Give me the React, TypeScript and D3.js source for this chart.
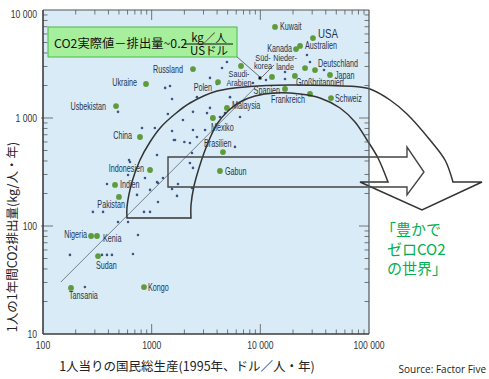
import React from 'react';
import * as d3 from 'd3';

const W = 489;
const H = 379;

// Axis ticks
const xTickValues = [100, 1000, 10000, 100000];
const xTickLabels = ['100', '1000', '10 000', '100 000'];
const yTickValues = [10, 100, 1000, 10000];
const yTickLabels = ['10', '100', '1 000', '10 000'];

// Named countries (GDP per capita $, CO2 kg per capita)
const countryNames = [
  'Kuwait', 'USA', 'Kanada', 'Australien', 'Süd-korea', 'Niederlande', 'Deutschland', 'Japan',
  'Großbritannien', 'Spanien', 'Frankreich', 'Schweiz', 'Saudi-Arabien', 'Russland', 'Polen',
  'Malaysia', 'Mexiko', 'Brasilien', 'Gabun', 'Ukraine', 'Usbekistan', 'China', 'Indonesien',
  'Indien', 'Pakistan', 'Nigeria', 'Kenia', 'Sudan', 'Tansania', 'Kongo',
];
const countryGdp = [
  13650, 30500, 21300, 23200, 12800, 25800, 31850, 43750,
  20800, 16870, 28640, 44700, 6640, 2400, 4080,
  4930, 3660, 4530, 4250, 887, 470, 781, 966,
  460, 500, 277, 314, 321, 181, 850,
];
const countryCo2 = [
  6970, 5500, 4350, 4650, 2400, 2900, 2780, 2500,
  2450, 1860, 1670, 1530, 3030, 2840, 2150,
  1240, 1000, 484, 323, 2065, 1290, 667, 330,
  240, 186, 80.8, 80.8, 52.7, 26.7, 27.2,
];

// Other (unlabelled) countries
const otherGdp = [
  1330, 1475, 1540, 1410, 490, 815, 1540, 1600, 619, 1120,
  4440, 4930, 3440, 3990, 2610, 5260, 1940, 2400, 3230, 3440,
  4250, 4730, 6500, 1070, 2400, 3100, 2610, 1640, 2250, 2000,
  5840, 2350, 2250, 2400, 8550, 11270, 16870, 16870, 26870, 28640,
  38550, 288, 357, 388, 606, 733, 490, 606, 850, 966,
  868, 966, 748, 177, 349, 388, 431, 673, 243, 632,
  1143, 1143, 1540, 1746, 1710, 1120, 1270, 2350,
];
const otherCo2 = [
  1900, 1980, 1500, 1090, 1140, 807, 758, 625, 409, 454,
  2900, 3300, 2350, 2065, 1560, 1560, 958, 1140, 1110, 1240,
  1020, 1110, 1020, 807, 774, 774, 667, 625, 587, 600,
  540, 474, 383, 345, 2110, 2250, 2670, 2300, 3830, 3300,
  2780, 135, 135, 245, 297, 194, 109, 109, 135, 135,
  278, 216, 82.6, 54, 54, 54, 54, 55, 27.2, 392,
  167, 250, 220, 245, 190, 255, 278, 225,
];

// Trend line endpoints
const trendGdp = [146, 8900];
const trendCo2 = [30.3, 1900];

// Label placement (pixel offsets from the point)
type LabelLayout = { dx: number; dy: number[]; anchor: 'start' | 'end' | 'middle'; lines?: string[]; big?: boolean };
const labelLayout: Record<string, LabelLayout> = {
  Kuwait: { dx: 5, dy: [0], anchor: 'start' },
  USA: { dx: 5, dy: [-5], anchor: 'start', big: true },
  Kanada: { dx: -4, dy: [-1], anchor: 'end' },
  Australien: { dx: 5, dy: [0], anchor: 'start' },
  'Süd-korea': { dx: -9, dy: [-19, -11], anchor: 'middle', lines: ['Süd-', 'korea'] },
  Niederlande: { dx: -20, dy: [-11, -2], anchor: 'middle', lines: ['Nieder-', 'lande'] },
  Deutschland: { dx: 3, dy: [-7], anchor: 'start' },
  Japan: { dx: 5, dy: [0], anchor: 'start' },
  'Großbritannien': { dx: 1, dy: [7], anchor: 'start' },
  Spanien: { dx: -5, dy: [2], anchor: 'end' },
  Frankreich: { dx: -39, dy: [6], anchor: 'start' },
  Schweiz: { dx: 4, dy: [0], anchor: 'start' },
  'Saudi-Arabien': { dx: -2, dy: [7, 16], anchor: 'middle', lines: ['Saudi-', 'Arabien'] },
  Russland: { dx: -10, dy: [0], anchor: 'end' },
  Polen: { dx: -6, dy: [5], anchor: 'end' },
  Malaysia: { dx: 5, dy: [-2], anchor: 'start' },
  Mexiko: { dx: -2, dy: [9], anchor: 'start' },
  Brasilien: { dx: -19, dy: [-9], anchor: 'start' },
  Gabun: { dx: 5, dy: [0], anchor: 'start' },
  Ukraine: { dx: -9, dy: [-1], anchor: 'end' },
  Usbekistan: { dx: -10, dy: [0], anchor: 'end' },
  China: { dx: -8, dy: [-1], anchor: 'end' },
  Indonesien: { dx: -6, dy: [-2], anchor: 'end' },
  Indien: { dx: 5, dy: [0], anchor: 'start' },
  Pakistan: { dx: 6, dy: [8], anchor: 'end' },
  Nigeria: { dx: -4, dy: [-1], anchor: 'end' },
  Kenia: { dx: 6, dy: [3], anchor: 'start' },
  Sudan: { dx: -2, dy: [9], anchor: 'start' },
  Tansania: { dx: -2, dy: [8], anchor: 'start' },
  Kongo: { dx: 4, dy: [0], anchor: 'start' },
};

const PL = 43, PR = 369, PT = 10, PB = 334;

export default function App() {
  React.useEffect(() => {
    document.body.style.margin = '0';
  }, []);

  const x = d3.scaleLog().domain([100, 100000]).range([PL, PR]);
  const y = d3.scaleLog().domain([10, 10000]).range([PB, PT]);

  const xMinor: number[] = [];
  [100, 1000, 10000].forEach((d) => { for (let k = 2; k <= 9; k++) xMinor.push(k * d); });
  const yMinor: number[] = [];
  [10, 100, 1000].forEach((d) => { for (let k = 2; k <= 9; k++) yMinor.push(k * d); });

  const lineGen = d3.line<[number, number]>().curve(d3.curveCatmullRom.alpha(0.5));

  // Curved block arrow (annotation, pixel space)
  const outerPts: [number, number][] = [
    [127, 218], [127, 207], [132, 182], [140, 160], [150, 142], [161, 127], [175, 114], [190, 103],
    [217, 91], [250, 86.5], [290, 85], [330, 85.5], [355, 86.5], [370, 89], [390, 100], [407, 114],
    [430, 140], [445, 160], [453, 182],
  ];
  const innerPts: [number, number][] = [
    [388, 182], [378, 158], [367, 140], [355, 122], [340, 108], [320, 98], [300, 94], [275, 93],
    [255, 96], [240, 102], [228, 111], [217, 124], [210, 138], [204, 153], [199, 168], [194, 186],
    [191, 205], [191, 218],
  ];
  const outerD = lineGen(outerPts) as string;
  const innerD = (lineGen(innerPts) as string).replace(/^M/, 'L');
  const curvedArrow = `${outerD}L482,182L422,210L360,182${innerD}Z`;

  const straightArrow = 'M168,157L407,157L407,147L424,172L407,195L407,187L168,187Z';

  const labelFont = 'Liberation Sans, Arial, sans-serif';
  const jpFont = "'Noto Sans CJK JP', 'Noto Sans', sans-serif";

  return (
    <svg width={W} height={H} style={{ position: 'absolute', left: 0, top: 0, background: '#fff' }}>
      <rect x={PL} y={PT} width={PR - PL} height={PB - PT} fill="#d8ebf7" />

      {/* other countries */}
      {otherGdp.map((g, i) => (
        <circle key={'o' + i} cx={x(g)} cy={y(otherCo2[i])} r={1.3} fill="#3d5585" />
      ))}

      {/* trend line */}
      <line x1={x(trendGdp[0])} y1={y(trendCo2[0])} x2={x(trendGdp[1])} y2={y(trendCo2[1])} stroke="#5a6470" strokeWidth={0.8} />

      {/* named countries */}
      {countryNames.map((n, i) => (
        <circle key={'c' + i} cx={x(countryGdp[i])} cy={y(countryCo2[i])} r={2.9} fill="#5f9b3b" />
      ))}

      {countryNames.map((n, i) => {
        const lay = labelLayout[n];
        const px = x(countryGdp[i]) + lay.dx;
        const py = y(countryCo2[i]);
        const lines = lay.lines || [n];
        const two = lines.length > 1;
        return lines.map((t, j) => (
          <text
            key={'l' + i + '-' + j}
            transform={`translate(${px},${py + lay.dy[j] + (lay.big ? 4.5 : 3.5)}) scale(${two ? 0.78 : 0.72},1)`}
            textAnchor={lay.anchor}
            fontFamily={labelFont}
            fontSize={lay.big ? 13.5 : two ? 9.3 : 10}
            fill="#26344c"
          >
            {t}
          </text>
        ));
      })}

      {/* Süd-korea pointer */}
      <rect x={258.5} y={76.5} width={3} height={3} fill="#111" />
      <line x1={274} y1={65} x2={262} y2={77} stroke="#333" strokeWidth={0.7} />
      <line x1={236} y1={56} x2={260} y2={77} stroke="#333" strokeWidth={0.7} />

      {/* arrows */}
      <path d={curvedArrow} fill="none" stroke="#333" strokeWidth={1.5} />
      <path d={straightArrow} fill="none" stroke="#444" strokeWidth={1.4} />

      {/* frame ticks */}
      {xMinor.map((v) => (
        <g key={'xm' + v}>
          <line x1={x(v)} x2={x(v)} y1={PB} y2={PB - 4.5} stroke="#666" strokeWidth={0.9} />
          <line x1={x(v)} x2={x(v)} y1={PT} y2={PT + 4.5} stroke="#666" strokeWidth={0.9} />
        </g>
      ))}
      {[1000, 10000].map((v) => (
        <g key={'xM' + v}>
          <line x1={x(v)} x2={x(v)} y1={PB} y2={PB - 10} stroke="#666" strokeWidth={0.9} />
          <line x1={x(v)} x2={x(v)} y1={PT} y2={PT + 10} stroke="#666" strokeWidth={0.9} />
        </g>
      ))}
      {yMinor.map((v) => (
        <g key={'ym' + v}>
          <line x1={PL} x2={PL + 4.5} y1={y(v)} y2={y(v)} stroke="#666" strokeWidth={0.9} />
          <line x1={PR} x2={PR - 4.5} y1={y(v)} y2={y(v)} stroke="#666" strokeWidth={0.9} />
        </g>
      ))}
      {[100, 1000].map((v) => (
        <g key={'yM' + v}>
          <line x1={PL - 2} x2={PL + 10} y1={y(v)} y2={y(v)} stroke="#666" strokeWidth={0.9} />
          <line x1={PR} x2={PR - 10} y1={y(v)} y2={y(v)} stroke="#666" strokeWidth={0.9} />
        </g>
      ))}

      {/* frame */}
      <line x1={PL} x2={PR} y1={PT} y2={PT} stroke="#555" strokeWidth={1.2} />
      <line x1={PR} x2={PR} y1={PT} y2={PB} stroke="#555" strokeWidth={1.2} />
      <line x1={PL} x2={PL} y1={PT} y2={PB} stroke="#3d3d3d" strokeWidth={1.6} />
      <line x1={PL} x2={PR} y1={PB} y2={PB} stroke="#3d3d3d" strokeWidth={1.6} />

      {/* tick labels */}
      {yTickValues.map((v, i) => (
        <text
          key={'yl' + v}
          transform={`translate(37,${Math.max(y(v), 14) + 4}) scale(0.78,1)`}
          textAnchor="end"
          fontFamily={labelFont}
          fontSize={11}
          fill="#333"
        >
          {yTickLabels[i]}
        </text>
      ))}
      {xTickValues.map((v, i) => (
        <text
          key={'xl' + v}
          transform={`translate(${x(v)},349) scale(0.78,1)`}
          textAnchor="middle"
          fontFamily={labelFont}
          fontSize={11}
          fill="#333"
        >
          {xTickLabels[i]}
        </text>
      ))}

      {/* axis titles */}
      <text x={187} y={371} textAnchor="middle" fontFamily={jpFont} fontSize={12.5} fill="#222">
        1人当りの国民総生産(1995年、ドル／人・年)
      </text>
      <text transform="translate(17,237) rotate(-90)" textAnchor="middle" fontFamily={jpFont} fontSize={12.5} fill="#222">
        1人の1年間CO2排出量(kg/人・年)
      </text>
      <text x={486} y={373} textAnchor="end" fontFamily="'Open Sans', sans-serif" fontSize={10} fill="#222">
        Source: Factor Five
      </text>

      {/* green formula box */}
      <rect x={48} y={27} width={189} height={30} fill="#a6ef9c" stroke="#4cb848" strokeWidth={1} />
      <text x={54} y={48} fontFamily={jpFont} fontSize={12.3} fill="#111">
        CO2実際値－排出量~0.2
      </text>
      <text x={209} y={42} textAnchor="middle" fontFamily={jpFont} fontSize={11.5} fill="#111">
        kg／人
      </text>
      <line x1={184} x2={233} y1={44} y2={44} stroke="#111" strokeWidth={1} />
      <text x={209} y={55} textAnchor="middle" fontFamily={jpFont} fontSize={11.5} fill="#111">
        USドル
      </text>

      {/* green slogan */}
      <text x={381} y={235} fontFamily={jpFont} fontSize={15} fill="#00b050">「豊かで</text>
      <text x={387} y={255} fontFamily={jpFont} fontSize={15} fill="#00b050">ゼロCO2</text>
      <text x={387} y={274} fontFamily={jpFont} fontSize={15} fill="#00b050">の世界」</text>
    </svg>
  );
}
